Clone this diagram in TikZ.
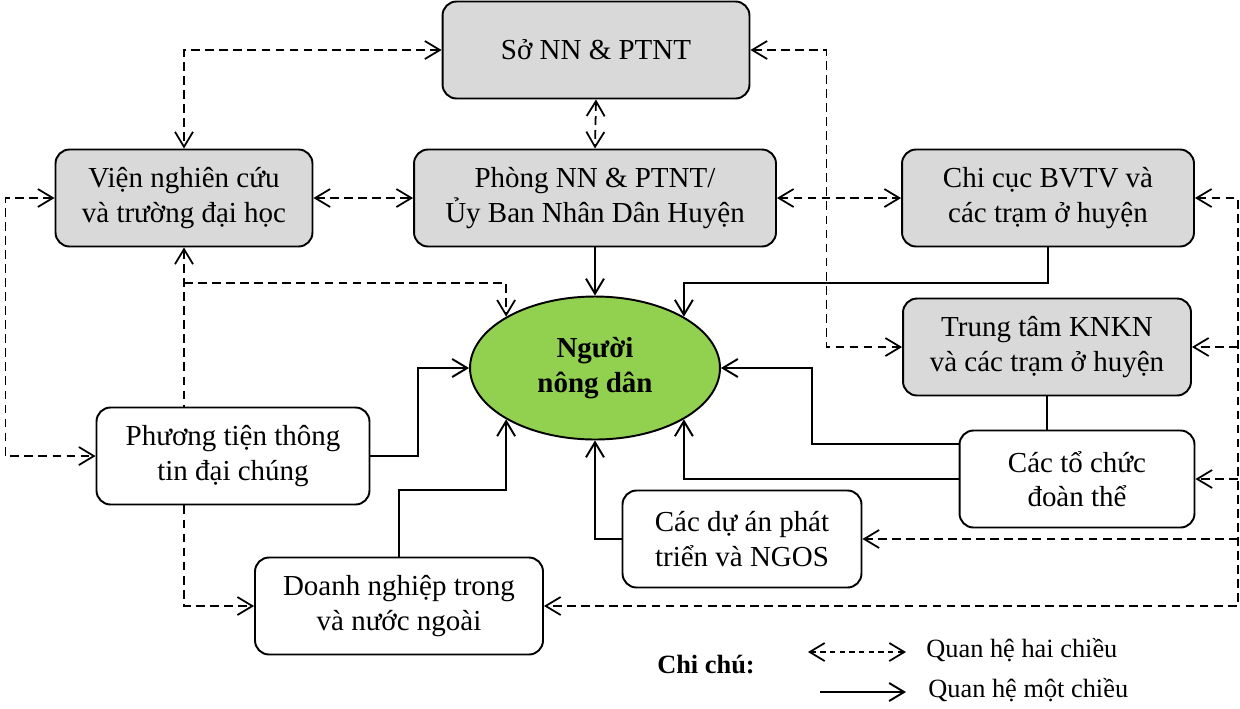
\documentclass[tikz,border=0pt]{standalone}
\usepackage{fontspec}
\setmainfont{Liberation Serif}
\usetikzlibrary{calc, arrows.meta, shapes.geometric, positioning}

\begin{document}
\begin{tikzpicture}[x=0.02cm, y=-0.02cm,
    >={Straight Barb[length=3mm, width=3.6mm]},
    baseBox/.style={draw=borderColour, line width=1.1pt, rounded corners=0.28cm,
        minimum height=1.94cm, align=center, inner sep=2pt,
        font=\fontsize{16.5}{19.5}\selectfont},
    grayBox/.style={baseBox, fill=fillColour},
    whiteBox/.style={baseBox, fill=white},
    farmerNode/.style={draw=borderColour, line width=1.1pt, ellipse, fill=farmerColour,
        minimum width=5cm, minimum height=2.86cm, inner sep=0pt, align=center,
        font=\fontsize{16.5}{19.5}\selectfont\bfseries},
    solidLine/.style={draw=borderColour, line width=1.1pt},
    dashLine/.style={draw=borderColour, line width=1pt, dash pattern=on 5pt off 3pt},
    twoWay/.style={dashLine, <->},
    oneWay/.style={solidLine, ->}]
    % Define colors
    \definecolor{borderColour}{HTML}{000000}
    \definecolor{fillColour}{HTML}{D9D9D9}
    \definecolor{farmerColour}{HTML}{92D050}

    % Fix the picture size
    \useasboundingbox (0,0) rectangle (1240,708);

    % Draw the boxes
    \node[grayBox, minimum width=6.14cm] (so) at (596,50) {Sở NN \& PTNT};
    \node[grayBox, minimum width=5.14cm] (vien) at (184,198) {Viện nghiên cứu\\và trường đại học};
    \node[grayBox, minimum width=7.24cm] (phong) at (595,198) {Phòng NN \& PTNT/\\Ủy Ban Nhân Dân Huyện};
    \node[grayBox, minimum width=5.84cm] (chicuc) at (1048,198) {Chi cục BVTV và\\các trạm ở huyện};
    \node[grayBox, minimum width=5.76cm] (trungtam) at (1047,347) {Trung tâm KNKN\\và các trạm ở huyện};
    \node[whiteBox, minimum width=4.7cm] (tochuc) at (1077,479) {Các tổ chức\\đoàn thể};
    \node[whiteBox, minimum width=4.78cm] (duan) at (742,539) {Các dự án phát\\triển và NGOS};
    \node[whiteBox, minimum width=5.46cm] (ptien) at (233,456) {Phương tiện thông\\tin đại chúng};
    \node[whiteBox, minimum width=5.76cm] (dn) at (399,606) {Doanh nghiệp trong\\và nước ngoài};

    % Draw the farmer in the centre
    \node[farmerNode] (nongdan) at (595,368) {Người\\nông dân};

    % Two-way relations
    \draw[twoWay] (so.west) -| (vien.north);
    \draw[twoWay] (so.south) -- (phong.north);
    \draw[twoWay] (vien.east) -- (phong.west);
    \draw[twoWay] (phong.east) -- (chicuc.west);
    \draw[twoWay] (so.east) -- ++(76,0) |- (trungtam.west);
    \draw[twoWay] (vien.west) -- ++(-49,0) |- (ptien.west);
    \draw[twoWay] (chicuc.east) -- ++(43,0) |- (dn.east);
    \coordinate (eastBus) at (1238,347);
    \draw[dashLine, ->] (eastBus) -- (trungtam.east);
    \draw[dashLine, ->] (eastBus |- tochuc.east) -- (tochuc.east);
    \draw[dashLine, ->] (eastBus |- duan.east) -- (duan.east);
    \coordinate (vienJoin) at ($(nongdan.150)+(0,-34)$);
    \draw[dashLine, <-] (vien.south) -- (vien.south |- ptien.north);
    \draw[dashLine, ->] (vien.south |- vienJoin) -| (nongdan.150);
    \draw[dashLine, ->] (vien.south |- ptien.south) |- (dn.west);

    % One-way relations
    \draw[oneWay] (phong.south) -- (nongdan.north);
    \draw[oneWay] (chicuc.south) |- ($(nongdan.30)+(0,-34)$) -- (nongdan.30);
    \draw[solidLine] (trungtam.south) -- (trungtam.south |- tochuc.north);
    \draw[oneWay] ($(tochuc.west)+(0,-35)$) -- ++(-147,0) |- (nongdan.east);
    \draw[oneWay] (tochuc.west) -| (nongdan.-30);
    \draw[oneWay] (duan.west) -| (nongdan.south);
    \draw[oneWay] (ptien.east) -- ++(48,0) |- (nongdan.west);
    \draw[oneWay] (dn.north) |- ($(nongdan.210)+(0,71)$) -- (nongdan.210);

    % Legend
    \node[font=\fontsize{15}{18}\selectfont\bfseries] (legendTitle) at (706,665) {Chi chú:};
    \coordinate (twoStart) at (808,652);
    \coordinate (twoEnd) at (906,652);
    \coordinate (oneStart) at (820,692);
    \coordinate (oneEnd) at (906,692);
    \draw[dashLine, dash pattern=on 3pt off 2.5pt, <->] (twoStart) -- (twoEnd);
    \draw[oneWay] (oneStart) -- (oneEnd);
    \node[anchor=west, inner sep=0pt, font=\fontsize{15}{18}\selectfont] (twoText) at (926,650) {Quan hệ hai chiều};
    \node[anchor=west, inner sep=0pt, font=\fontsize{15}{18}\selectfont] (oneText) at (928,690) {Quan hệ một chiều};

\end{tikzpicture}
\end{document}
